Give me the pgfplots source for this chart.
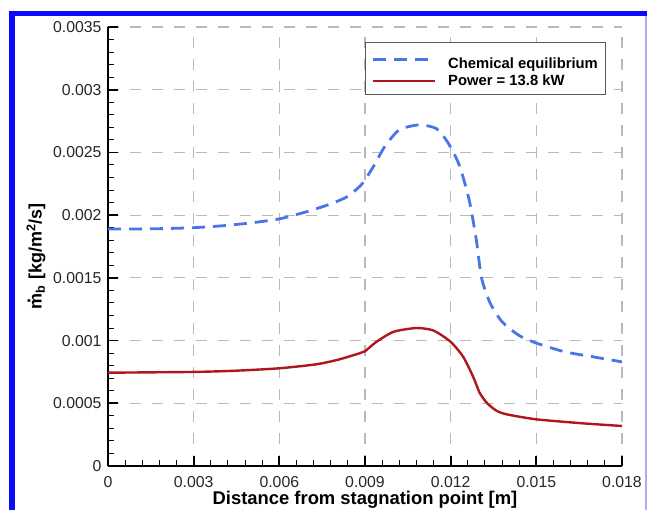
\documentclass[border=0pt]{standalone}
\usepackage{fontspec}
\setmainfont{Liberation Sans}
\usepackage{pgfplots}
\pgfplotsset{compat=1.18}
\definecolor{eqblue}{RGB}{72,118,232}
\definecolor{pwred}{RGB}{176,22,30}
\definecolor{gridgray}{RGB}{185,185,185}
\definecolor{frameblue}{RGB}{12,12,250}
\definecolor{edgeblue}{RGB}{175,175,240}
\begin{document}
\begin{tikzpicture}
\useasboundingbox (0,0) rectangle (647bp,510bp);
\fill[white] (0,0) rectangle (647bp,510bp);
\fill[frameblue] (9bp,0) rectangle (15bp,499bp);
\fill[frameblue] (9bp,494bp) rectangle (647bp,499bp);
\fill[edgeblue] (645bp,0) rectangle (647bp,494bp);
\begin{axis}[
  at={(108bp,44bp)}, anchor=south west,
  scale only axis, width=514bp, height=439bp,
  xmin=0, xmax=0.018, ymin=0, ymax=0.0035,
  scaled x ticks=false, scaled y ticks=false,
  axis lines*=left,
  axis line style={line width=1.8bp, black},
  xtick={0,0.003,0.006,0.009,0.012,0.015,0.018},
  xticklabels={0,0.003,0.006,0.009,0.012,0.015,0.018},
  ytick={0,0.0005,0.001,0.0015,0.002,0.0025,0.003,0.0035},
  yticklabels={0,0.0005,0.001,0.0015,0.002,0.0025,0.003,0.0035},
  minor tick num=4,
  tick align=inside,
  major tick length=10bp, minor tick length=6bp,
  major tick style={line width=1.8bp, black},
  minor tick style={line width=1bp, black},
  grid=major,
  major grid style={gridgray, line width=1.1bp, dash pattern=on 11bp off 11bp},
  ticklabel style={font=\fontsize{15.8bp}{18bp}\selectfont, text=black!85},
  xticklabel style={yshift=-7bp},
  yticklabel style={xshift=-3bp},
  every axis x label/.style={at={(axis description cs:0.5,-0.0775)}, anchor=center},
  every axis y label/.style={at={(axis description cs:-0.140,0.478)}, rotate=90, anchor=center},
  xlabel={\fontsize{18.4bp}{21bp}\selectfont\bfseries Distance from stagnation point [m]},
  ylabel={\fontsize{18bp}{21bp}\selectfont\bfseries \ooalign{m\cr\hidewidth\raisebox{0.62em}{.}\hidewidth\cr}\textsubscript{b} [kg/m\textsuperscript{2}/s]},
  legend style={at={(0.5,0.966)}, anchor=north west, draw=black!65, line width=0.8bp,
    font=\fontsize{14.8bp}{17bp}\selectfont\bfseries, inner xsep=6bp, inner ysep=5bp, row sep=1bp,
    /tikz/every odd column/.append style={column sep=10bp}},
  legend cell align=left,
  legend image code/.code={\draw[#1] (0bp,0bp) -- (62bp,0bp);},
]
\addplot[eqblue, line width=2.8bp, dash pattern=on 13bp off 8bp, smooth, tension=0.4] coordinates {
(0,0.00189) (0.001,0.001890) (0.002,0.001893) (0.003,0.001900) (0.004,0.001915)
(0.005,0.001938) (0.006,0.00197) (0.007,0.00203) (0.0078,0.00209) (0.0084,0.00215)
(0.0089,0.00225) (0.0093,0.00239) (0.0097,0.00255) (0.0102,0.00268) (0.0109,0.00272)
(0.0115,0.00269) (0.0119,0.00258) (0.0123,0.00240) (0.01265,0.00212) (0.0129,0.00180)
(0.01308,0.00150) (0.01338,0.00130) (0.0138,0.00115) (0.0144,0.00104) (0.0150,0.00098)
(0.0160,0.00091) (0.0170,0.00087) (0.0180,0.00083)
};
\addlegendentry{\rule{0pt}{19bp}Chemical equilibrium}
\addplot[pwred, line width=2.4bp, smooth, tension=0.4] coordinates {
(0,0.000744) (0.003,0.00075) (0.0045,0.00076) (0.006,0.000779) (0.0073,0.000811)
(0.0081,0.00085) (0.0088,0.000898) (0.0090,0.000915) (0.0094,0.00099) (0.0100,0.00107)
(0.0108,0.0011) (0.0114,0.00108) (0.0120,0.00099) (0.01244,0.00087) (0.01279,0.00071)
(0.01300,0.00059) (0.01314,0.00054) (0.01330,0.000495) (0.01361,0.00044)
(0.01396,0.000412) (0.0150,0.000372) (0.01664,0.00034) (0.0180,0.000319)
};
\addlegendentry{Power = 13.8 kW}
\end{axis}
\end{tikzpicture}
\end{document}
